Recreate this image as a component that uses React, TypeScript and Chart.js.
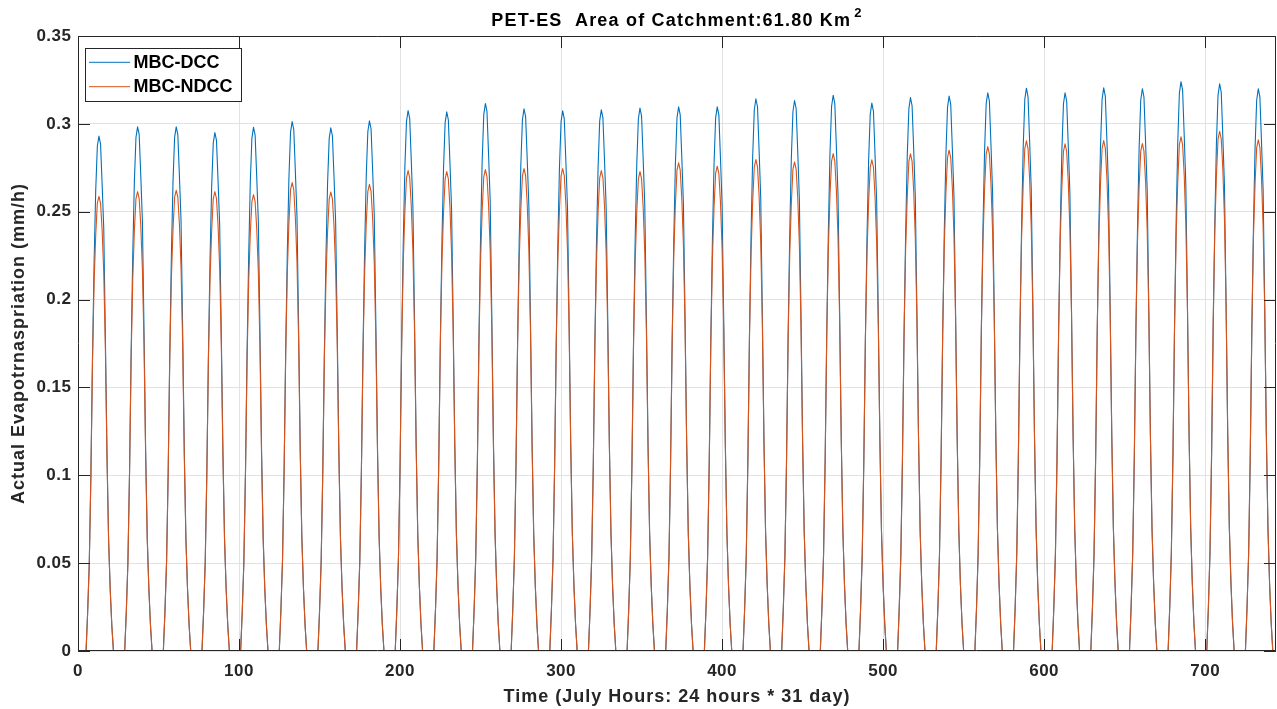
import React, { useEffect, useRef } from "react";
import { Chart, registerables } from "chart.js";

Chart.register(...registerables);

// ---- data ----
const HOURS_PER_DAY = 24;
const DAY_COUNT = 31;
const X_MAX = 744;

// Daily peak (mm/h) for each of the 31 July days
const dccDailyPeak = [
  0.293, 0.2983, 0.2983, 0.295, 0.298, 0.3013, 0.2977, 0.3017, 0.3076, 0.3068,
  0.3116, 0.3086, 0.3074, 0.308, 0.309, 0.3097, 0.3097, 0.3143, 0.3133, 0.3163,
  0.3118, 0.315, 0.3158, 0.3177, 0.3203, 0.3177, 0.3205, 0.32, 0.324, 0.3228, 0.32,
];
const ndccDailyPeak = [
  0.2588, 0.2614, 0.2622, 0.2614, 0.2597, 0.2666, 0.2612, 0.2656, 0.2734, 0.2728,
  0.274, 0.2745, 0.2745, 0.2734, 0.2728, 0.2778, 0.2759, 0.2797, 0.2783, 0.2831,
  0.2795, 0.2829, 0.285, 0.2871, 0.2903, 0.2886, 0.2905, 0.2888, 0.2926, 0.2958, 0.2909,
];
const dccHourShape = [
  0, 0, 0, 0, 0, 0.076, 0.17, 0.34, 0.57, 0.755, 0.895, 0.98,
  1, 0.985, 0.905, 0.82, 0.61, 0.384, 0.217, 0.12, 0.05, 0, 0, 0,
];
const ndccHourShape = [
  0, 0, 0, 0, 0, 0.085, 0.193, 0.386, 0.637, 0.81, 0.915, 0.985,
  1, 0.985, 0.925, 0.83, 0.665, 0.425, 0.243, 0.135, 0.056, 0, 0, 0,
];

const xTicks = [0, 100, 200, 300, 400, 500, 600, 700];
const yTicks = [0, 0.05, 0.1, 0.15, 0.2, 0.25, 0.3, 0.35];

const titleMain = "PET-ES  Area of Catchment:61.80 Km";
const titleSup = "2";
const xTitle = "Time (July Hours: 24 hours * 31 day)";
const yTitle = "Actual Evapotrnaspriation (mm/h)";
const seriesNames = ["MBC-DCC", "MBC-NDCC"];
const seriesColors = ["#0072BD", "#D95319"];

function buildSeries(peaks: number[], shape: number[]) {
  const pts: { x: number; y: number }[] = [];
  for (let d = 0; d < DAY_COUNT; d++) {
    for (let h = 0; h < HOURS_PER_DAY; h++) {
      pts.push({ x: d * HOURS_PER_DAY + h + 1, y: peaks[d] * shape[h] });
    }
  }
  return pts;
}

const FONT = '"Liberation Sans", Arial, sans-serif';
const TEXT = "#262626";

const framePlugin = {
  id: "matlabFrame",
  beforeDraw(chart: any) {
    const ctx = chart.ctx;
    ctx.save();
    ctx.fillStyle = "#ffffff";
    ctx.fillRect(0, 0, chart.width, chart.height);
    ctx.restore();
    ctx.letterSpacing = "0.5px";
  },
  afterDraw(chart: any) {
    const ctx = chart.ctx as CanvasRenderingContext2D;
    const { left, right, top, bottom } = chart.chartArea;
    const xs = chart.scales.x;
    const ys = chart.scales.y;
    ctx.save();
    // box
    ctx.strokeStyle = TEXT;
    ctx.lineWidth = 1;
    ctx.beginPath();
    ctx.rect(left + 0.5, top + 0.5, right - left - 1, bottom - top - 1);
    ctx.stroke();
    // inward ticks
    const TL = 12;
    ctx.beginPath();
    for (const v of xTicks) {
      const px = Math.round(xs.getPixelForValue(v)) + 0.5;
      ctx.moveTo(px, bottom);
      ctx.lineTo(px, bottom - TL);
      ctx.moveTo(px, top);
      ctx.lineTo(px, top + TL);
    }
    for (const v of yTicks) {
      const py = Math.round(ys.getPixelForValue(v)) + 0.5;
      ctx.moveTo(left, py);
      ctx.lineTo(left + TL, py);
      ctx.moveTo(right, py);
      ctx.lineTo(right - TL, py);
    }
    ctx.stroke();

    // title with superscript
    const cx = (left + right) / 2;
    ctx.fillStyle = "#000";
    ctx.textBaseline = "middle";
    ctx.textAlign = "left";
    (ctx as any).letterSpacing = "1.2px";
    ctx.font = `bold 18px ${FONT}`;
    const w1 = ctx.measureText(titleMain).width;
    ctx.font = `bold 13px ${FONT}`;
    const w2 = ctx.measureText(titleSup).width;
    const start = cx - (w1 + 3 + w2) / 2;
    ctx.font = `bold 18px ${FONT}`;
    ctx.fillText(titleMain, start, 21.5);
    ctx.font = `bold 13px ${FONT}`;
    ctx.fillText(titleSup, start + w1 + 3, 13.8);

    // axis titles
    ctx.fillStyle = TEXT;
    ctx.font = `bold 18px ${FONT}`;
    (ctx as any).letterSpacing = "1px";
    ctx.textAlign = "center";
    ctx.fillText(xTitle, cx, 697);
    ctx.save();
    ctx.translate(19.5, (top + bottom) / 2);
    ctx.rotate(-Math.PI / 2);
    ctx.fillText(yTitle, 0, 0);
    ctx.restore();

    // legend
    (ctx as any).letterSpacing = "0px";
    const lx = 85, ly = 48, lw = 156, lh = 53;
    ctx.fillStyle = "#fff";
    ctx.fillRect(lx, ly, lw, lh);
    ctx.strokeStyle = TEXT;
    ctx.lineWidth = 1;
    ctx.strokeRect(lx + 0.5, ly + 0.5, lw, lh);
    const rows = [62.3, 86.7];
    ctx.font = `bold 18px ${FONT}`;
    ctx.textAlign = "left";
    ctx.textBaseline = "middle";
    rows.forEach((ry, i) => {
      ctx.strokeStyle = seriesColors[i];
      ctx.beginPath();
      ctx.moveTo(89, ry);
      ctx.lineTo(130, ry);
      ctx.stroke();
      ctx.fillStyle = "#000";
      ctx.fillText(seriesNames[i], 133.5, ry + 0.5);
    });
    ctx.restore();
  },
};

export default function App() {
  const ref = useRef<HTMLCanvasElement>(null);
  useEffect(() => {
    const canvas = ref.current!;
    const chart = new Chart(canvas, {
      type: "line",
      data: {
        datasets: [
          {
            label: seriesNames[0],
            data: buildSeries(dccDailyPeak, dccHourShape),
            borderColor: seriesColors[0],
            borderWidth: 1.1,
            borderJoinStyle: "round",
            pointRadius: 0,
            tension: 0,
            order: 2,
          },
          {
            label: seriesNames[1],
            data: buildSeries(ndccDailyPeak, ndccHourShape),
            borderColor: seriesColors[1],
            borderWidth: 1.1,
            borderJoinStyle: "round",
            pointRadius: 0,
            tension: 0,
            order: 1,
          },
        ],
      },
      options: {
        animation: false,
        responsive: false,
        devicePixelRatio: 1,
        layout: { padding: { top: 36, right: 1, left: 0, bottom: 0 } },
        plugins: { legend: { display: false }, title: { display: false }, tooltip: { enabled: false } },
        scales: {
          x: {
            type: "linear",
            min: 0,
            max: X_MAX,
            afterFit: (s: any) => {
              s.height = 58;
            },
            afterBuildTicks: (s: any) => {
              s.ticks = xTicks.map((v) => ({ value: v }));
            },
            ticks: {
              includeBounds: false,
              color: TEXT,
              font: { family: FONT, size: 17, weight: "bold" },
              padding: 10,
              maxRotation: 0,
              callback: (v: any) => String(v),
            },
            grid: { color: "#e2e2e2", drawTicks: false, lineWidth: 1 },
            border: { display: false },
          },
          y: {
            type: "linear",
            min: 0,
            max: 0.35,
            afterFit: (s: any) => {
              s.width = 78;
            },
            afterBuildTicks: (s: any) => {
              s.ticks = yTicks.map((v) => ({ value: v }));
            },
            ticks: {
              color: TEXT,
              font: { family: FONT, size: 17, weight: "bold" },
              padding: 6.5,
              callback: (v: any) => String(Math.round(Number(v) * 100) / 100),
            },
            grid: { color: "#e2e2e2", drawTicks: false, lineWidth: 1 },
            border: { display: false },
          },
        },
      },
      plugins: [framePlugin],
    } as any);
    return () => chart.destroy();
  }, []);
  return (
    <div style={{ position: "absolute", left: 0, top: 0, width: 1277, height: 709, background: "#fff" }}>
      <canvas ref={ref} width={1277} height={709} style={{ display: "block", width: 1277, height: 709 }} />
    </div>
  );
}
